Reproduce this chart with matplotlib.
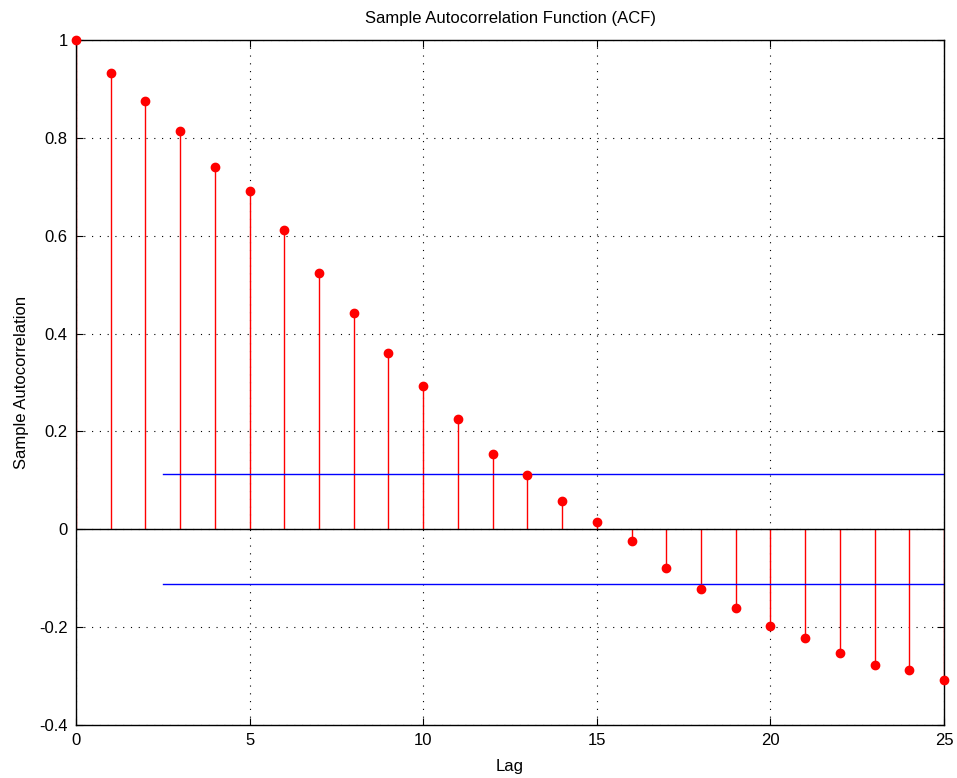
import matplotlib
matplotlib.use('Agg')
import matplotlib.pyplot as plt
import numpy as np

plt.rcParams['font.family'] = ['Liberation Sans', 'DejaVu Sans']

# sample ACF values
lags = list(range(26))
acf = [1.000, 0.932, 0.875, 0.815, 0.740, 0.691, 0.611, 0.523, 0.443, 0.360,
       0.292, 0.225, 0.153, 0.110, 0.057, 0.015, -0.024, -0.080, -0.123, -0.161,
       -0.198, -0.223, -0.253, -0.278, -0.288, -0.308]
bound = 0.112
bound_start = 2.5

fig = plt.figure(figsize=(9.57, 7.78), dpi=100)
ax = fig.add_axes([76/957, 53/778, 868/957, 685/778])

ax.vlines(lags, 0, acf, color='red', linewidth=1)
ax.plot(lags, acf, 'o', color='red', markersize=6, zorder=3, clip_on=False)
ax.axhline(0, color='black', linewidth=1)
ax.plot([bound_start, 25], [bound, bound], color='blue', linewidth=1)
ax.plot([bound_start, 25], [-bound, -bound], color='blue', linewidth=1)

ax.set_xlim(0, 25)
ax.set_ylim(-0.4, 1)
ax.set_xticks([0, 5, 10, 15, 20, 25])
ax.set_yticks([-0.4, -0.2, 0, 0.2, 0.4, 0.6, 0.8, 1])
ax.set_yticklabels(['-0.4', '-0.2', '0', '0.2', '0.4', '0.6', '0.8', '1'])
ax.tick_params(direction='in', top=True, right=True, labelsize=12, length=5)
ax.tick_params(axis='x', pad=6)
ax.tick_params(axis='y', pad=6)
ax.grid(True, linestyle=(0, (1, 6)), color='black', linewidth=0.8)
for s in ax.spines.values():
    s.set_linewidth(1)

ax.set_title('Sample Autocorrelation Function (ACF)', fontsize=12, pad=12)
ax.set_xlabel('Lag', fontsize=12, labelpad=8)
ax.set_ylabel('Sample Autocorrelation', fontsize=12, labelpad=7)

fig.savefig('out.png', dpi=100)
